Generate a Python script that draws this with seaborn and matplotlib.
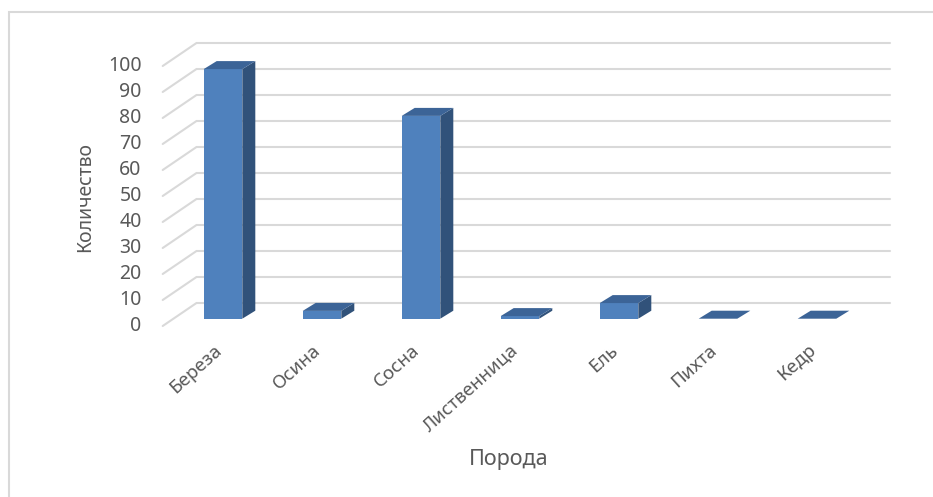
import matplotlib
matplotlib.use("Agg")
import matplotlib.pyplot as plt
import matplotlib.patches as mpatches
import matplotlib.transforms as mtransforms
import seaborn as sns
import pandas as pd

# ---------------------------------------------------------
# Data
# ---------------------------------------------------------
species = ["Береза", "Осина", "Сосна", "Лиственница", "Ель", "Пихта", "Кедр"]
counts = [96, 3, 78, 1, 6, 0, 0]
y_ticks = [0, 10, 20, 30, 40, 50, 60, 70, 80, 90, 100]

df = pd.DataFrame({"Порода": species, "Количество": counts})

# ---------------------------------------------------------
# Style
# ---------------------------------------------------------
sns.set_style("white")
plt.rcParams["font.family"] = ["Noto Sans", "DejaVu Sans"]
text_col = "#595959"
grid_col = "#d9d9d9"
front_col = "#4f81bd"
side_col = "#31527a"
top_col = "#3c6497"

fig = plt.figure(figsize=(9.33, 4.97), dpi=100)
W, H = 933, 497
# axes = the plane of the bar front faces
ax = fig.add_axes([173.5 / W, (H - 318.7) / H, 693 / W, 260 / H])

sns.barplot(data=df, x="Порода", y="Количество", color=front_col,
            width=0.39, saturation=1, ax=ax, zorder=3)
ax.set_xlim(-0.5, len(species) - 0.5)
ax.set_ylim(0, 100)
sns.despine(ax=ax, left=True, bottom=True)
ax.set_yticks([])

fig.canvas.draw()
p0 = ax.transData.transform((0, 0))
p1 = ax.transData.transform((1, 1))
ux, uy = p1[0] - p0[0], p1[1] - p0[1]

# offsets of the 3D box (pixels -> data units)
back_dx, back_dy = 23 / ux, 15.7 / uy
front_dx, front_dy = -10.8 / ux, -7.3 / uy
bar_dx, bar_dy = 13 / ux, 8 / uy

x_lo, x_hi = ax.get_xlim()

# back wall gridlines and side wall diagonals
for t in y_ticks:
    ax.plot([x_lo + back_dx, x_hi + back_dx], [t + back_dy, t + back_dy],
            color=grid_col, lw=1.5, zorder=0, clip_on=False)
    ax.plot([x_lo + front_dx, x_lo + back_dx], [t + front_dy, t + back_dy],
            color=grid_col, lw=1.5, zorder=0, clip_on=False)
    ax.text(x_lo + front_dx - 21 / ux, t + front_dy, str(t), ha="right",
            va="center", fontsize=14, color=text_col)

# side and top faces of the bars
for p in list(ax.patches):
    x0, w, h = p.get_x(), p.get_width(), p.get_height()
    p.set_edgecolor("none")
    side = [(x0 + w, 0), (x0 + w + bar_dx, bar_dy),
            (x0 + w + bar_dx, h + bar_dy), (x0 + w, h)]
    top = [(x0, h), (x0 + w, h), (x0 + w + bar_dx, h + bar_dy),
           (x0 + bar_dx, h + bar_dy)]
    ax.add_patch(mpatches.Polygon(side, closed=True, fc=side_col, ec="none",
                                  zorder=3, clip_on=False))
    ax.add_patch(mpatches.Polygon(top, closed=True, fc=top_col, ec="none",
                                  zorder=3, clip_on=False))

# labels
ax.tick_params(axis="x", length=0, pad=16, labelsize=13.5, labelcolor=text_col)
ax.set_xticks(range(len(species)))
ax.set_xticklabels(species, rotation=42, ha="right", rotation_mode="anchor")
shift = mtransforms.ScaledTranslation(-10 / 100, 0, fig.dpi_scale_trans)
for lab in ax.get_xticklabels():
    lab.set_transform(lab.get_transform() + shift)
ax.set_xlabel("Порода", fontsize=15.5, color=text_col)
ax.xaxis.label.set_va("center")
ax.xaxis.set_label_coords((509 - 173.5) / 693, (318.7 - 459) / 260)
ax.set_ylabel("Количество", fontsize=14, color=text_col)
ax.yaxis.label.set_va("center")
ax.yaxis.set_label_coords((85 - 173.5) / 693, (318.7 - 197) / 260)

# chart area border
fig.patches.append(mpatches.Rectangle((9 / W, -0.1), 1.1, (H - 12) / H + 0.1,
                                      transform=fig.transFigure, fill=False,
                                      ec=grid_col, lw=1.5))

plt.savefig("out.png", dpi=100)
plt.close()
